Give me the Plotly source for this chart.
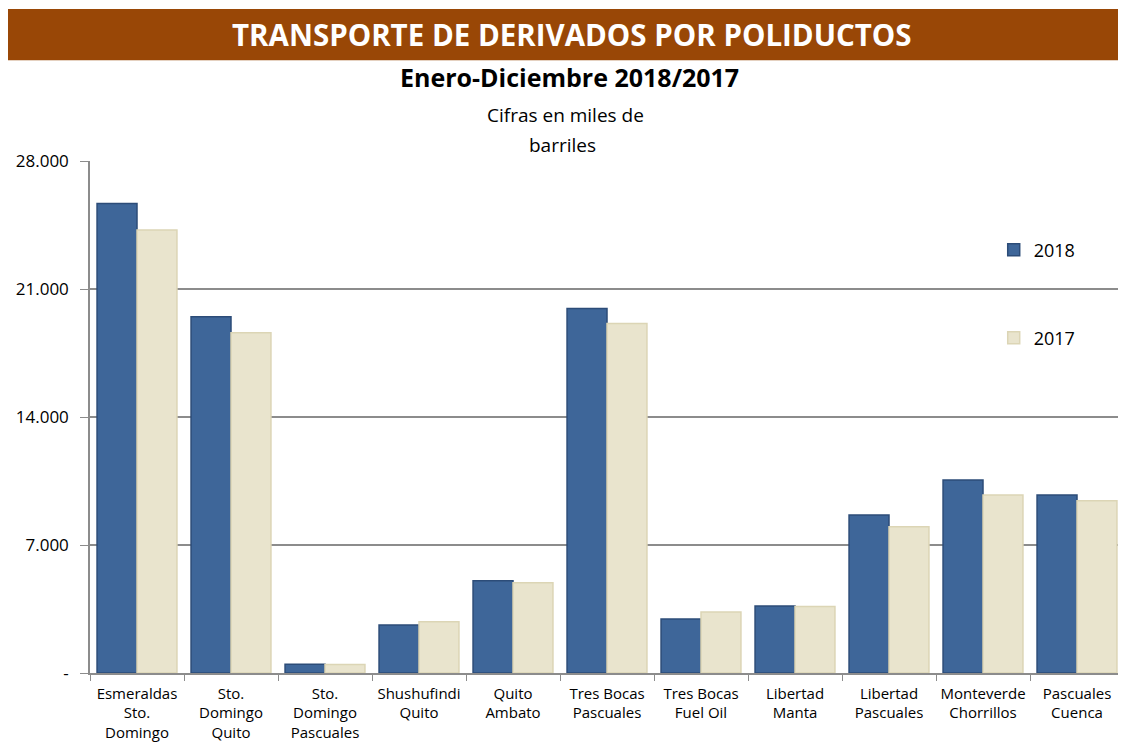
import plotly.graph_objects as go

# Datos (miles de barriles)
poliductos = [
    "Esmeraldas<br>Sto.<br>Domingo",
    "Sto.<br>Domingo<br>Quito",
    "Sto.<br>Domingo<br>Pascuales",
    "Shushufindi<br>Quito",
    "Quito<br>Ambato",
    "Tres Bocas<br>Pascuales",
    "Tres Bocas<br>Fuel Oil",
    "Libertad<br>Manta",
    "Libertad<br>Pascuales",
    "Monteverde<br>Chorrillos",
    "Pascuales<br>Cuenca",
]
valores_2018 = [25680, 19480, 480, 2620, 5050, 19940, 2950, 3660, 8640, 10550, 9730]
valores_2017 = [24220, 18610, 470, 2800, 4940, 19120, 3340, 3640, 8000, 9730, 9420]

tick_vals = [0, 7000, 14000, 21000, 28000]
tick_text = ["-", "7.000", "14.000", "21.000", "28.000"]

fuente = "Open Sans"

fig = go.Figure()
fig.add_trace(go.Bar(
    x=poliductos, y=valores_2018, name="2018",
    marker=dict(color="#3E6699", line=dict(color="#2C4C78", width=1.5)),
    legend="legend",
))
fig.add_trace(go.Bar(
    x=poliductos, y=valores_2017, name="2017",
    marker=dict(color="#E9E4CD", line=dict(color="#DCD5B5", width=1.5)),
    legend="legend2",
))

# Banda del título
fig.add_shape(type="rect", xref="paper", yref="paper",
              x0=-0.086, x1=1.01, y0=1.197, y1=1.297,
              fillcolor="#994706", line_width=0, layer="below")

fig.add_annotation(text="<b>TRANSPORTE DE DERIVADOS POR POLIDUCTOS</b>",
                   xref="paper", yref="paper", x=0.466, y=1.248, yanchor="middle",
                   showarrow=False, font=dict(family=fuente, size=29.5, color="white"))
fig.add_annotation(text="<b>Enero-Diciembre 2018/2017</b>",
                   xref="paper", yref="paper", x=0.464, y=1.164, yanchor="middle",
                   showarrow=False, font=dict(family=fuente, size=25, color="black"))
fig.add_annotation(text="Cifras en miles de",
                   xref="paper", yref="paper", x=0.460, y=1.090, yanchor="middle",
                   showarrow=False, font=dict(family=fuente, size=19, color="black"))
fig.add_annotation(text="barriles",
                   xref="paper", yref="paper", x=0.457, y=1.031, yanchor="middle",
                   showarrow=False, font=dict(family=fuente, size=19, color="black"))

fig.update_layout(
    width=1118, height=745,
    margin=dict(l=82, r=2, t=153, b=80),
    paper_bgcolor="white", plot_bgcolor="white",
    barmode="group", bargap=0.15, bargroupgap=0,
    font=dict(family=fuente, size=15, color="black"),
    showlegend=True,
    legend=dict(x=0.874, y=0.826, xanchor="left", yanchor="middle",
                font=dict(family=fuente, size=18), bgcolor="rgba(0,0,0,0)"),
    legend2=dict(x=0.874, y=0.654, xanchor="left", yanchor="middle",
                 font=dict(family=fuente, size=18), bgcolor="rgba(0,0,0,0)",
                 visible=True),
)
fig.update_yaxes(range=[0, 28000], tickvals=tick_vals, ticktext=tick_text,
                 showgrid=True, gridcolor="#8C8C8C", gridwidth=1.5,
                 showline=True, linecolor="#8C8C8C", linewidth=1.5,
                 ticks="outside", ticklen=8, tickcolor="#8C8C8C",
                 ticklabelstandoff=8,
                 tickfont=dict(size=17), zeroline=False)
fig.update_xaxes(showline=True, linecolor="#8C8C8C", linewidth=1.5,
                 ticks="outside", tickson="boundaries", ticklen=6,
                 tickcolor="#8C8C8C", ticklabelstandoff=6,
                 tickangle=0, tickfont=dict(size=15))

fig.write_html("out.html")
